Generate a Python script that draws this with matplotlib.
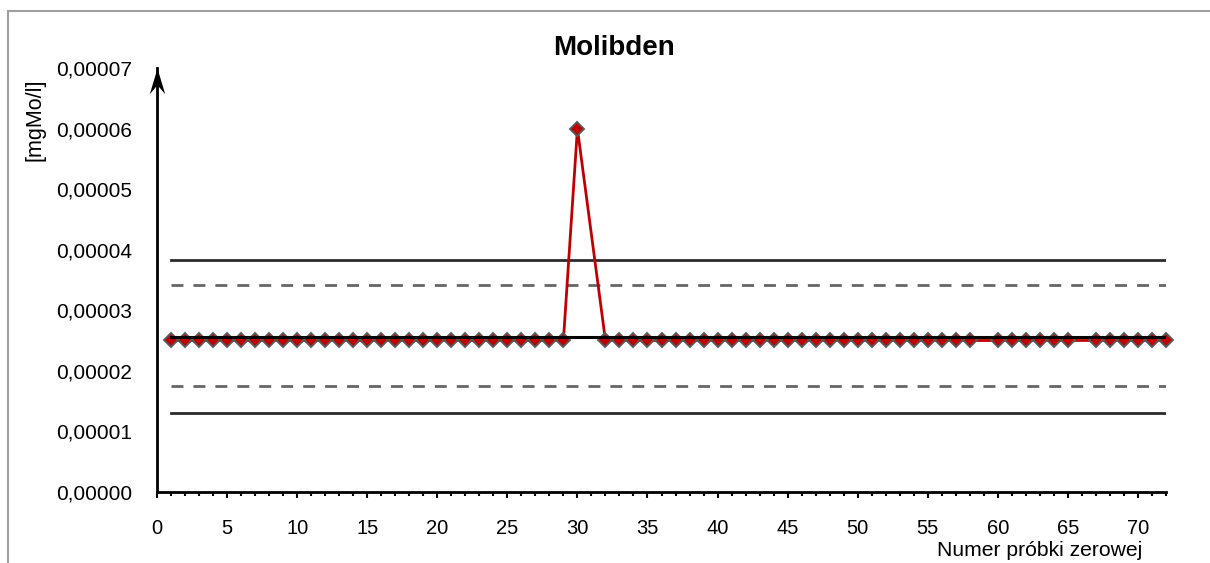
import numpy as np
import matplotlib
matplotlib.use("Agg")
import matplotlib.pyplot as plt
from matplotlib.path import Path
from matplotlib.patches import Rectangle
from matplotlib.ticker import MultipleLocator, FuncFormatter

plt.rcParams['font.family'] = ['Liberation Sans', 'DejaVu Sans']

# ---- data ----
sample_no = list(range(1, 73))
values = [2.5e-5] * 72
values[30 - 1] = 6.0e-5
for missing in (31, 59, 66):
    values[missing - 1] = np.nan

mean_line = 2.5625e-5
warn_upper = 3.42e-5
warn_lower = 1.74e-5
ctrl_upper = 3.83e-5
ctrl_lower = 1.30e-5

title = "Molibden"
y_label = "[mgMo/l]"
x_label = "Numer próbki zerowej"

W, H, DPI = 1210, 563, 100
fig = plt.figure(figsize=(W / DPI, H / DPI), dpi=DPI)

# axes placement in pixels
x0, x1 = 157, 1166
y0, y1 = 491.7, 68.3
ax = fig.add_axes([x0 / W, 1 - y0 / H, (x1 - x0) / W, (y0 - y1) / H])
ax.set_xlim(0, 72)
ax.set_ylim(0, 7e-5)

xs = np.array(sample_no, dtype=float)
ys = np.array(values, dtype=float)
ok = ~np.isnan(ys)

# data series
ax.plot(xs[ok], ys[ok], color='#C00000', lw=2.0, zorder=3, clip_on=False)
ax.plot(xs[ok], ys[ok], ls='none', marker='D', markersize=7.6,
        markerfacecolor='#C00000', markeredgecolor='#5a5a5a',
        markeredgewidth=1.4, zorder=4, clip_on=False)

# control lines
xl = [1, 72]
ax.plot(xl, [ctrl_upper] * 2, color='#2b2b2b', lw=2.0, zorder=2)
ax.plot(xl, [ctrl_lower] * 2, color='#2b2b2b', lw=2.0, zorder=2)
ax.plot(xl, [warn_upper] * 2, color='#666666', lw=2.0, ls=(0, (4.3, 3.6)), zorder=2)
ax.plot(xl, [warn_lower] * 2, color='#666666', lw=2.0, ls=(0, (4.3, 3.6)), zorder=2)
ax.plot(xl, [mean_line] * 2, color='#000000', lw=2.2, zorder=5)

# spines
for s in ('top', 'right'):
    ax.spines[s].set_visible(False)
for s in ('left', 'bottom'):
    ax.spines[s].set_linewidth(2.0)
    ax.spines[s].set_color('black')

# arrow head on y axis
arrow = Path([(0, 0), (-0.3, -1), (0, -0.65), (0.3, -1), (0, 0)],
             [Path.MOVETO, Path.LINETO, Path.LINETO, Path.LINETO, Path.CLOSEPOLY])
ax.plot([0], [7e-5], marker=arrow, markersize=37, color='black',
        markeredgewidth=0, clip_on=False, zorder=6)

# ticks
ax.xaxis.set_major_locator(MultipleLocator(5))
ax.xaxis.set_minor_locator(MultipleLocator(1))
ax.tick_params(axis='x', which='major', direction='out', length=4.5, width=1.5,
               labelsize=14.5, pad=15)
ax.tick_params(axis='x', which='minor', direction='out', length=3, width=1.5)
ax.yaxis.set_major_locator(MultipleLocator(1e-5))
ax.yaxis.set_major_formatter(FuncFormatter(lambda v, p: f"{v:.5f}".replace('.', ',')))
ax.tick_params(axis='y', which='major', length=0, labelsize=15, pad=18)

# texts
fig.text(614 / W, 1 - 48 / H, title, ha='center', va='center',
         fontsize=20, fontweight='bold')
fig.text(35 / W, 1 - 120 / H, y_label, ha='center', va='center',
         rotation=90, fontsize=15.5)
fig.text(1142 / W, 1 - 550 / H, x_label, ha='right', va='center', fontsize=15.2)

# outer border (extends past the right and bottom edges)
fig.patches.append(Rectangle((8 / W, -0.1), 1.2, 1.1 - 10.5 / H,
                             transform=fig.transFigure, fill=False,
                             edgecolor='#a0a0a0', lw=1.5))

fig.savefig('out.png', dpi=DPI)
